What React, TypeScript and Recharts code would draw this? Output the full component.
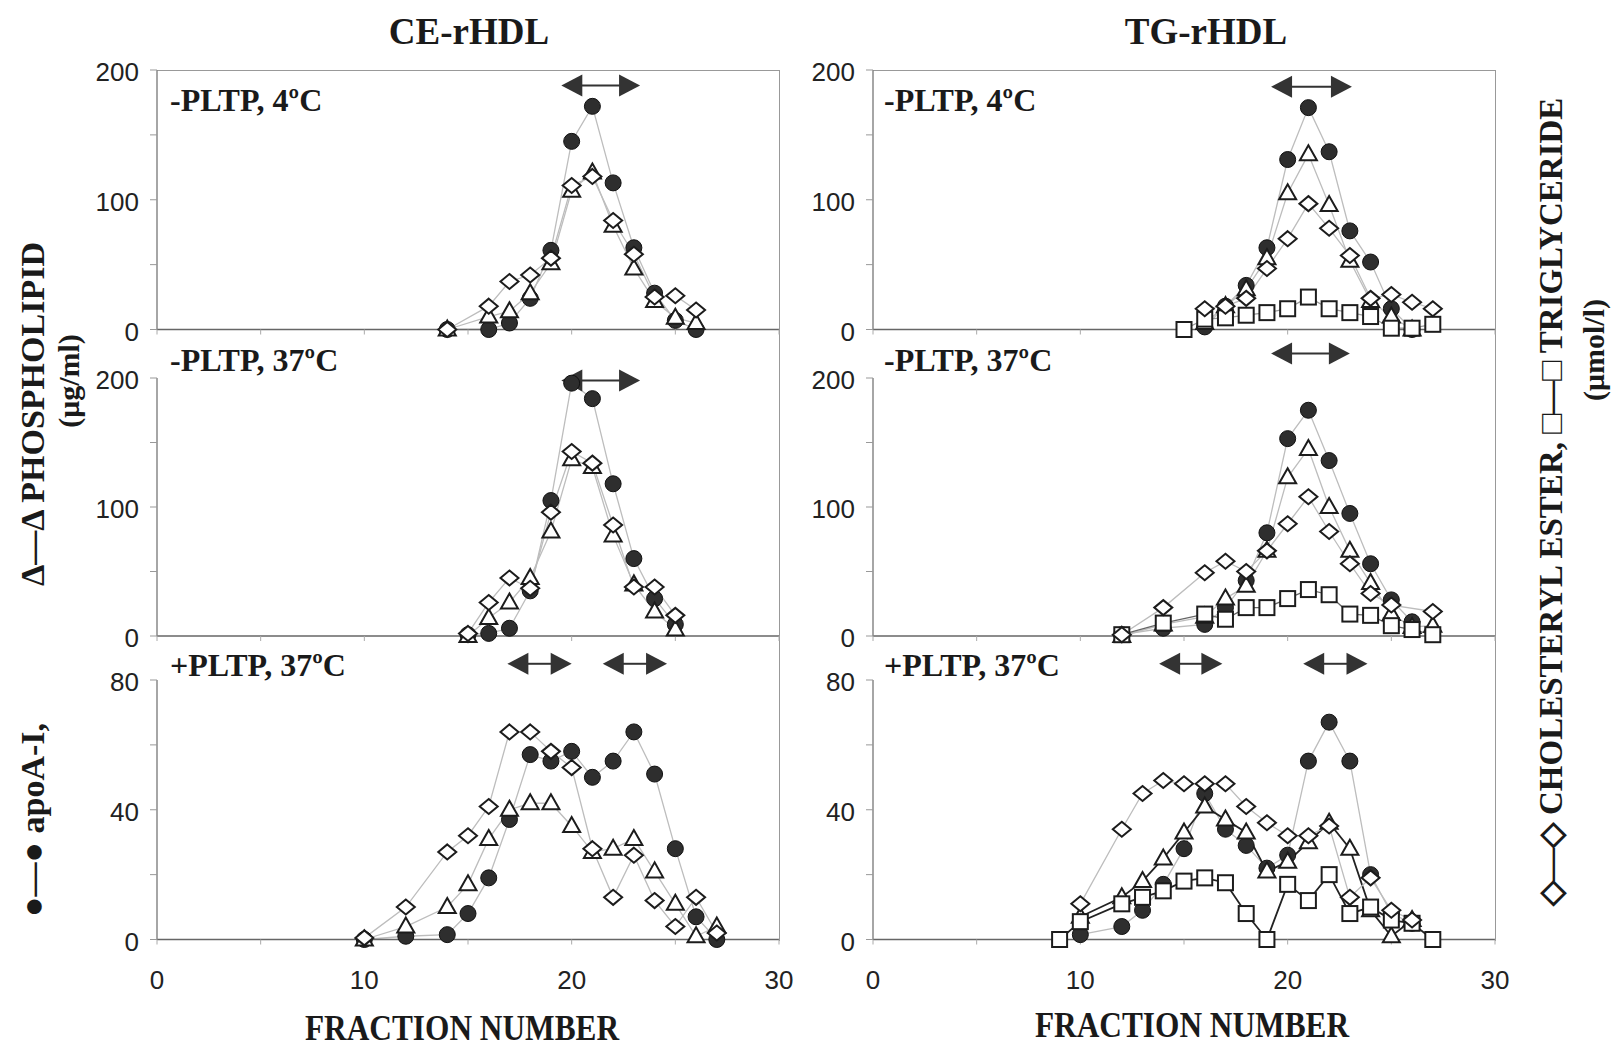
import { LineChart, Line, XAxis, YAxis, ReferenceLine } from 'recharts'

// CE-rHDL, -PLTP 4ºC
const ceColdFractions = [14, 16, 17, 18, 19, 20, 21, 22, 23, 24, 25, 26]
const ceColdApoA = [0, 0, 5, 24, 61, 145, 172, 113, 63, 28, 7, 0]
const ceColdPL = [0, 10, 14, 28, 51, 107, 121, 80, 47, 22, 9, 5]
const ceColdCE = [0, 18, 37, 42, 55, 111, 118, 84, 58, 25, 26, 15]

// CE-rHDL, -PLTP 37ºC
const ceWarmFractions = [15, 16, 17, 18, 19, 20, 21, 22, 23, 24, 25]
const ceWarmApoA = [1, 2, 6, 35, 105, 196, 184, 118, 60, 29, 9]
const ceWarmPL = [0, 14, 26, 45, 81, 137, 131, 78, 40, 19, 5]
const ceWarmCE = [2, 26, 45, 37, 96, 143, 134, 86, 38, 38, 16]

// CE-rHDL, +PLTP 37ºC
const cePltpFractions = [10, 12, 14, 15, 16, 17, 18, 19, 20, 21, 22, 23, 24, 25, 26, 27]
const cePltpApoA = [0, 1, 1.5, 8, 19, 37, 57, 55, 58, 50, 55, 64, 51, 28, 7, 0]
const cePltpPL = [0, 4, 10, 17, 31, 40, 42, 42, 35, 27, 28, 31, 21, 11, 1, 4]
const cePltpCE = [0.5, 10, 27, 32, 41, 64, 64, 58, 53, 28, 13, 26, 12, 4, 13, 2]

// TG-rHDL, -PLTP 4ºC
const tgColdFractions = [15, 16, 17, 18, 19, 20, 21, 22, 23, 24, 25, 26, 27]
const tgColdApoA = [null, 2, 18, 34, 63, 131, 171, 137, 76, 52, 16, 0, null]
const tgColdPL = [null, 5, 18, 31, 55, 105, 135, 96, 53, 22, 10, 0, null]
const tgColdCE = [null, 16, 18, 24, 47, 70, 97, 78, 57, 24, 27, 21, 16]
const tgColdTG = [0, 8, 9, 11, 13, 16, 25, 16, 13, 10, 1, 1, 4]

// TG-rHDL, -PLTP 37ºC
const tgWarmFractions = [12, 14, 16, 17, 18, 19, 20, 21, 22, 23, 24, 25, 26, 27]
const tgWarmApoA = [1, 6, 9, 22, 43, 80, 153, 175, 136, 95, 56, 28, 11, null]
const tgWarmPL = [0, 9, 15, 29, 39, 66, 123, 145, 100, 66, 41, 17, 7, 8]
const tgWarmCE = [1, 22, 49, 58, 50, 66, 87, 108, 81, 56, 33, 24, null, 19]
const tgWarmTG = [1, 10, 17, 13, 22, 22, 29, 36, 32, 17, 16, 8, 5, 1]

// TG-rHDL, +PLTP 37ºC
const tgPltpFractions = [9, 10, 12, 13, 14, 15, 16, 17, 18, 19, 20, 21, 22, 23, 24, 25, 26, 27]
const tgPltpApoA = [null, 1.5, 4, 9, 17, 28, 45, 34, 29, 22, 26, 55, 67, 55, 20, 8, 5, null]
const tgPltpPL = [null, 7, 13, 18, 25, 33, 41, 37, 33, 21, 24, 30, 36, 28, 9, 1, 6, null]
const tgPltpCE = [null, 11, 34, 45, 49, 48, 48, 48, 41, 36, 32, 32, 35, 13, 19, 9, 6, null]
const tgPltpTG = [0, 5.5, 11, 13, 15, 18, 19, 17.5, 8, 0, 17, 12, 20, 8, 10, 6, 5, 0]

// double-headed arrows marking pooled fractions: [from, to, level]
const ceColdArrows = [[19.5, 23.3, 188]]
const ceWarmArrows = [[19.5, 23.3, 198]]
const cePltpArrows = [[16.9, 20.0, 85], [21.5, 24.6, 85]]
const tgColdArrows = [[19.2, 23.1, 187]]
const tgWarmArrows = [[19.2, 23.0, 219]]
const tgPltpArrows = [[13.8, 16.85, 85], [20.75, 23.85, 85]]

const xTicks = [0, 5, 10, 15, 20, 25, 30]
const bigYTicks = [0, 50, 100, 150, 200]
const smallYTicks = [0, 20, 40, 60, 80]

const GRAY = '#bdbdbd'
const INK = '#1c1c1c'
const SERIF = '"Liberation Serif", "Times New Roman", serif'
const SANS = '"Liberation Sans", Arial, sans-serif'

type Shape = 'circle' | 'triangle' | 'diamond' | 'square'

interface Series {
  values: (number | null)[]
  shape: Shape
  stroke: string
  width: number
}

function Marker({ cx, cy, shape }: { cx: number; cy: number; shape: Shape }) {
  if (shape === 'circle') {
    return <circle cx={cx} cy={cy} r={8} fill="#2e2e2e" stroke="#111" strokeWidth={1} />
  }
  if (shape === 'triangle') {
    return (
      <polygon
        points={`${cx},${cy - 9} ${cx - 8.5},${cy + 6} ${cx + 8.5},${cy + 6}`}
        fill="#fff"
        stroke={INK}
        strokeWidth={2}
      />
    )
  }
  if (shape === 'diamond') {
    return (
      <polygon
        points={`${cx},${cy - 7.5} ${cx + 9},${cy} ${cx},${cy + 7.5} ${cx - 9},${cy}`}
        fill="#fff"
        stroke={INK}
        strokeWidth={2}
      />
    )
  }
  return <rect x={cx - 7.5} y={cy - 7.5} width={15} height={15} fill="#fff" stroke={INK} strokeWidth={2} />
}

const renderArrow = (p: any) => {
  const { x1, y1, x2 } = p
  const head = 21
  const half = 11
  return (
    <g>
      <line x1={x1 + head - 2} y1={y1} x2={x2 - head + 2} y2={y1} stroke="#333" strokeWidth={2} />
      <polygon points={`${x1},${y1} ${x1 + head},${y1 - half} ${x1 + head},${y1 + half}`} fill="#333" />
      <polygon points={`${x2},${y1} ${x2 - head},${y1 - half} ${x2 - head},${y1 + half}`} fill="#333" />
    </g>
  )
}

interface PanelProps {
  fractions: number[]
  series: Series[]
  arrows: number[][]
  yMax: number
  yTicks: number[]
  yLabelEvery: number
  showXLabels: boolean
  plotLeft: number
  plotTop: number
  plotWidth: number
  plotHeight: number
}

const MARGIN_TOP = 40
const Y_AXIS_W = 70
const RIGHT_PAD = 20

function Panel(props: PanelProps) {
  const { fractions, series, arrows, yMax, yTicks, yLabelEvery, showXLabels } = props
  const xAxisH = showXLabels ? 60 : 22

  const xTick = (p: any) => {
    if (!showXLabels || p.payload.value % 10 !== 0) return <g />
    return (
      <text x={p.x} y={p.y} dy={42} textAnchor="middle" fontSize={26} fontFamily={SANS} fill="#222">
        {p.payload.value}
      </text>
    )
  }
  const yTick = (p: any) => {
    if (p.payload.value % yLabelEvery !== 0) return <g />
    return (
      <text x={p.x} y={p.y} dy={11} textAnchor="end" fontSize={26} fontFamily={SANS} fill="#222">
        {p.payload.value}
      </text>
    )
  }

  return (
    <div style={{ position: 'absolute', left: props.plotLeft - Y_AXIS_W, top: props.plotTop - MARGIN_TOP }}>
      <LineChart
        width={Y_AXIS_W + props.plotWidth + RIGHT_PAD}
        height={MARGIN_TOP + props.plotHeight + xAxisH}
        margin={{ top: MARGIN_TOP, right: RIGHT_PAD, bottom: 0, left: 0 }}
      >
        <XAxis
          type="number"
          dataKey="f"
          domain={[0, 30]}
          ticks={xTicks}
          interval={0}
          height={xAxisH}
          axisLine={{ stroke: '#666', strokeWidth: 1.5 }}
          tickLine={{ stroke: '#aaa' }}
          tickSize={5}
          tickMargin={2}
          tick={xTick}
        />
        <YAxis
          type="number"
          domain={[0, yMax]}
          ticks={yTicks}
          interval={0}
          width={Y_AXIS_W}
          axisLine={{ stroke: '#888', strokeWidth: 1.5 }}
          tickLine={{ stroke: '#999' }}
          tickSize={7}
          tickMargin={11}
          tick={yTick}
        />
        {series.map((s, si) => (
          <Line
            key={si}
            data={fractions
              .map((f, i) => ({ f, v: s.values[i] }))
              .filter((d) => d.v !== null && d.v !== undefined)}
            dataKey="v"
            type="linear"
            stroke={s.stroke}
            strokeWidth={s.width}
            dot={(d: any) =>
              d.cx == null || d.cy == null ? (
                <g key={`e${d.index}`} />
              ) : (
                <Marker key={`m${d.index}`} cx={d.cx} cy={d.cy} shape={s.shape} />
              )
            }
            activeDot={false}
            isAnimationActive={false}
            connectNulls
          />
        ))}
        {arrows.map(([from, to, y], i) => (
          <ReferenceLine
            key={`a${i}`}
            segment={[
              { x: from, y },
              { x: to, y },
            ]}
            ifOverflow="visible"
            shape={renderArrow}
          />
        ))}
      </LineChart>
    </div>
  )
}

const LEFT_X = 157
const RIGHT_X = 873
const PLOT_W = 622
const ROWS = [
  { top: 70, height: 259.5 },
  { top: 378, height: 258 },
  { top: 680, height: 259.5 },
]

function threeSeries(apoA: (number | null)[], pl: (number | null)[], ce: (number | null)[]): Series[] {
  return [
    { values: apoA, shape: 'circle', stroke: GRAY, width: 1.3 },
    { values: pl, shape: 'triangle', stroke: GRAY, width: 1.3 },
    { values: ce, shape: 'diamond', stroke: GRAY, width: 1.3 },
  ]
}

function fourSeries(
  apoA: (number | null)[],
  pl: (number | null)[],
  ce: (number | null)[],
  tg: (number | null)[],
  plStroke: string,
  tgStroke: string,
  darkWidth: number,
): Series[] {
  return [
    { values: apoA, shape: 'circle', stroke: GRAY, width: 1.3 },
    { values: pl, shape: 'triangle', stroke: plStroke, width: darkWidth },
    { values: tg, shape: 'square', stroke: tgStroke, width: darkWidth },
    { values: ce, shape: 'diamond', stroke: GRAY, width: 1.3 },
  ]
}

const textBase: React.CSSProperties = {
  position: 'absolute',
  fontFamily: SERIF,
  fontWeight: 'bold',
  color: '#1a1a1a',
  whiteSpace: 'nowrap',
  lineHeight: 1,
}

function Centered({ x, y, size, rotate = 0, sx = 1, children }: any) {
  return (
    <div
      style={{
        ...textBase,
        left: x,
        top: y,
        fontSize: size,
        transform: `translate(-50%, -50%) rotate(${rotate}deg) scaleX(${sx})`,
      }}
    >
      {children}
    </div>
  )
}

function PanelLabel({ x, y, children }: any) {
  return <div style={{ ...textBase, left: x, top: y - 16, fontSize: 32 }}>{children}</div>
}

export default function App() {
  return (
    <div
      style={{
        position: 'absolute',
        left: 0,
        top: 0,
        width: 1616,
        height: 1049,
        background: '#fff',
        overflow: 'hidden',
      }}
    >
      {/* outer frames */}
      <div style={{ position: 'absolute', left: LEFT_X, top: 70, width: PLOT_W, height: 870, borderTop: '1.5px solid #999', borderRight: '1.5px solid #999' }} />
      <div style={{ position: 'absolute', left: RIGHT_X, top: 70, width: PLOT_W, height: 870, borderTop: '1.5px solid #999', borderRight: '1.5px solid #999' }} />

      <Centered x={469} y={31} size={37}>CE-rHDL</Centered>
      <Centered x={1206} y={31} size={37}>TG-rHDL</Centered>

      <Panel fractions={ceColdFractions} series={threeSeries(ceColdApoA, ceColdPL, ceColdCE)} arrows={ceColdArrows}
        yMax={200} yTicks={bigYTicks} yLabelEvery={100} showXLabels={false}
        plotLeft={LEFT_X} plotTop={ROWS[0].top} plotWidth={PLOT_W} plotHeight={ROWS[0].height} />
      <Panel fractions={ceWarmFractions} series={threeSeries(ceWarmApoA, ceWarmPL, ceWarmCE)} arrows={ceWarmArrows}
        yMax={200} yTicks={bigYTicks} yLabelEvery={100} showXLabels={false}
        plotLeft={LEFT_X} plotTop={ROWS[1].top} plotWidth={PLOT_W} plotHeight={ROWS[1].height} />
      <Panel fractions={cePltpFractions} series={threeSeries(cePltpApoA, cePltpPL, cePltpCE)} arrows={cePltpArrows}
        yMax={80} yTicks={smallYTicks} yLabelEvery={40} showXLabels
        plotLeft={LEFT_X} plotTop={ROWS[2].top} plotWidth={PLOT_W} plotHeight={ROWS[2].height} />

      <Panel fractions={tgColdFractions} series={fourSeries(tgColdApoA, tgColdPL, tgColdCE, tgColdTG, GRAY, '#9a9a9a', 1.3)} arrows={tgColdArrows}
        yMax={200} yTicks={bigYTicks} yLabelEvery={100} showXLabels={false}
        plotLeft={RIGHT_X} plotTop={ROWS[0].top} plotWidth={PLOT_W} plotHeight={ROWS[0].height} />
      <Panel fractions={tgWarmFractions} series={fourSeries(tgWarmApoA, tgWarmPL, tgWarmCE, tgWarmTG, GRAY, '#666', 1.3)} arrows={tgWarmArrows}
        yMax={200} yTicks={bigYTicks} yLabelEvery={100} showXLabels={false}
        plotLeft={RIGHT_X} plotTop={ROWS[1].top} plotWidth={PLOT_W} plotHeight={ROWS[1].height} />
      <Panel fractions={tgPltpFractions} series={fourSeries(tgPltpApoA, tgPltpPL, tgPltpCE, tgPltpTG, '#222', '#222', 1.8)} arrows={tgPltpArrows}
        yMax={80} yTicks={smallYTicks} yLabelEvery={40} showXLabels
        plotLeft={RIGHT_X} plotTop={ROWS[2].top} plotWidth={PLOT_W} plotHeight={ROWS[2].height} />

      <PanelLabel x={170} y={100}>-PLTP, 4ºC</PanelLabel>
      <PanelLabel x={170} y={360}>-PLTP, 37ºC</PanelLabel>
      <PanelLabel x={170} y={665}>+PLTP, 37ºC</PanelLabel>
      <PanelLabel x={884} y={100}>-PLTP, 4ºC</PanelLabel>
      <PanelLabel x={884} y={360}>-PLTP, 37ºC</PanelLabel>
      <PanelLabel x={884} y={665}>+PLTP, 37ºC</PanelLabel>

      <Centered x={462} y={1028} size={36} sx={0.87}>FRACTION NUMBER</Centered>
      <Centered x={1192} y={1025} size={36} sx={0.87}>FRACTION NUMBER</Centered>

      <Centered x={33} y={414} size={34} rotate={-90}>Δ—Δ PHOSPHOLIPID</Centered>
      <Centered x={33} y={820} size={34} rotate={-90}>●—● apoA-I,</Centered>
      <Centered x={69} y={381} size={30} rotate={-90}>(μg/ml)</Centered>
      <Centered x={1551} y={502} size={33} rotate={-90}>
        ◇—◇ CHOLESTERYL ESTER, □—□ TRIGLYCERIDE
      </Centered>
      <Centered x={1594} y={350} size={30} rotate={-90}>(μmol/l)</Centered>
    </div>
  )
}
